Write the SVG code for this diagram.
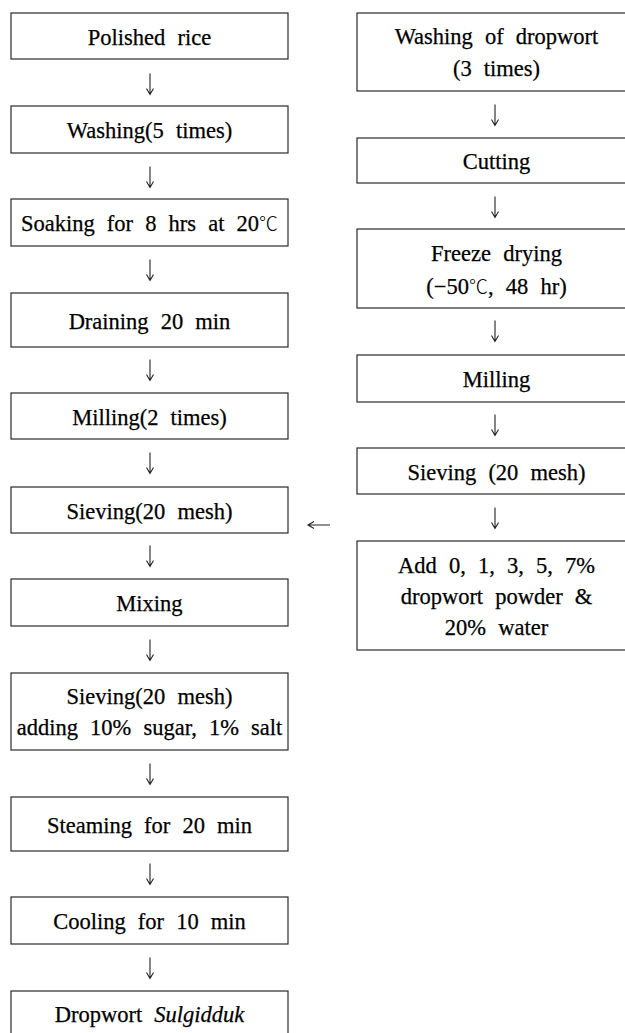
<svg xmlns="http://www.w3.org/2000/svg" width="625" height="1033" viewBox="0 0 625 1033">
<style>
.box{fill:#fff;stroke:#2a2a2a;stroke-width:1.2}
.t{font-family:"Liberation Serif","Times New Roman","DejaVu Serif",serif;font-size:22.5px;word-spacing:6.5px;fill:#000;stroke:#000;stroke-width:0.25;text-anchor:middle}
.it{font-style:italic}
.deg{font-family:"Noto Sans CJK KR","DejaVu Sans",sans-serif;font-size:19px;font-weight:300;stroke-width:0}
.arr{fill:none;stroke:#222;stroke-width:1.1}
</style>
<defs>
<path id="dn" d="M0,-10.5 V10.5 M-3.5,4.5 L0,10.5 L3.5,4.5"/>
</defs>
<rect width="625" height="1033" fill="#fff"/>
<g id="connectors" class="arr">
<use href="#dn" x="150" y="84"/>
<use href="#dn" x="150" y="177"/>
<use href="#dn" x="150" y="270"/>
<use href="#dn" x="150" y="370"/>
<use href="#dn" x="150" y="463"/>
<use href="#dn" x="150" y="556"/>
<use href="#dn" x="150" y="650"/>
<use href="#dn" x="150" y="774"/>
<use href="#dn" x="150" y="874"/>
<use href="#dn" x="150" y="968"/>
<use href="#dn" x="495" y="115"/>
<use href="#dn" x="495" y="207"/>
<use href="#dn" x="495" y="331"/>
<use href="#dn" x="495" y="425"/>
<use href="#dn" x="495" y="518"/>
<path d="M330,525 H308 M314,521.5 L308,525 L314,528.5"/>
</g>
<g id="n1"><rect class="box" x="11" y="13" width="277" height="46"/><text class="t" x="149.5" y="44.5">Polished rice</text></g>
<g id="n2"><rect class="box" x="11" y="106" width="277" height="47"/><text class="t" x="149.5" y="138">Washing(5 times)</text></g>
<g id="n3"><rect class="box" x="11" y="199" width="277" height="47"/><text class="t" x="149.5" y="231">Soaking for 8 hrs at 20<tspan class="deg">℃</tspan></text></g>
<g id="n4"><rect class="box" x="11" y="293" width="277" height="54"/><text class="t" x="149.5" y="328.5">Draining 20 min</text></g>
<g id="n5"><rect class="box" x="11" y="393" width="277" height="46"/><text class="t" x="149.5" y="424.5">Milling(2 times)</text></g>
<g id="n6"><rect class="box" x="11" y="487" width="277" height="46"/><text class="t" x="149.5" y="518.5">Sieving(20 mesh)</text></g>
<g id="n7"><rect class="box" x="11" y="579" width="277" height="47"/><text class="t" x="149.5" y="611">Mixing</text></g>
<g id="n8"><rect class="box" x="11" y="673" width="277" height="77"/><text class="t" x="149.5" y="704">Sieving(20 mesh)</text><text class="t" x="149.5" y="735">adding 10% sugar, 1% salt</text></g>
<g id="n9"><rect class="box" x="11" y="797" width="277" height="54"/><text class="t" x="149.5" y="832.5">Steaming for 20 min</text></g>
<g id="n10"><rect class="box" x="11" y="897" width="277" height="47"/><text class="t" x="149.5" y="929">Cooling for 10 min</text></g>
<g id="n11"><rect class="box" x="11" y="991" width="277" height="48"/><text class="t" x="149.5" y="1022">Dropwort <tspan class="it">Sulgidduk</tspan></text></g>
<g id="r1"><rect class="box" x="357" y="13" width="280" height="78"/><text class="t" x="496.5" y="44">Washing of dropwort</text><text class="t" x="496.5" y="76">(3 times)</text></g>
<g id="r2"><rect class="box" x="357" y="138" width="280" height="45"/><text class="t" x="496.5" y="169">Cutting</text></g>
<g id="r3"><rect class="box" x="357" y="229" width="280" height="79"/><text class="t" x="496.5" y="261">Freeze drying</text><text class="t" x="496.5" y="294">(−50<tspan class="deg">℃</tspan>, 48 hr)</text></g>
<g id="r4"><rect class="box" x="357" y="355" width="280" height="47"/><text class="t" x="496.5" y="387">Milling</text></g>
<g id="r5"><rect class="box" x="357" y="448" width="280" height="46"/><text class="t" x="496.5" y="479.5">Sieving (20 mesh)</text></g>
<g id="r6"><rect class="box" x="357" y="541" width="280" height="109"/><text class="t" x="496.5" y="573">Add 0, 1, 3, 5, 7%</text><text class="t" x="496.5" y="604">dropwort powder &amp;</text><text class="t" x="496.5" y="635">20% water</text></g>
</svg>
